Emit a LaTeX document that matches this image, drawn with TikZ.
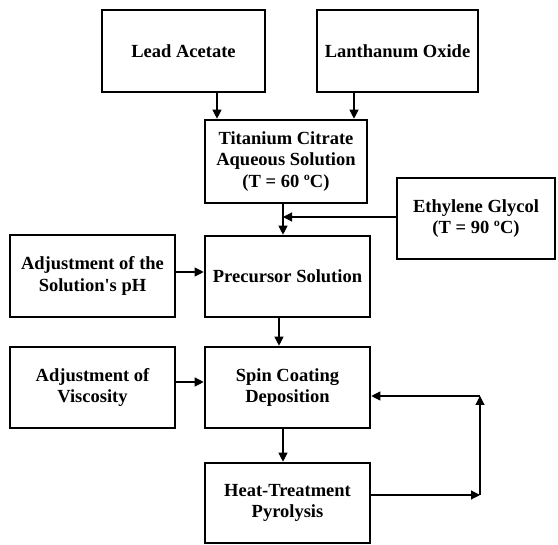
\documentclass[tikz,border=0pt]{standalone}
\usepackage{fontspec}
\setmainfont{Liberation Serif}
\usetikzlibrary{arrows.meta}
\tikzset{
  box/.style={draw=black, line width=2.6pt, fill=white, inner sep=0pt, align=center,
    font=\fontsize{18.5}{21.7}\selectfont\bfseries},
  arr/.style={draw=black, line width=1.1pt, -{Triangle[length=9pt,width=9pt]}}
}
\begin{document}
\begin{tikzpicture}[x=1pt,y=-1pt]
\useasboundingbox (0,0) rectangle (558,545);
\node[box, minimum width=163pt, minimum height=82pt] (lead) at (183.5,51) {Lead Acetate};
\node[box, minimum width=161pt, minimum height=82pt] (lan) at (397.5,51) {Lanthanum Oxide};
\node[box, minimum width=162pt, minimum height=83pt] (tit) at (286,161.5) {Titanium Citrate\\Aqueous Solution\\(T = 60 ºC)};
\node[box, minimum width=158pt, minimum height=81pt] (eth) at (476,218.5) {Ethylene Glycol\\(T = 90 ºC)};
\node[box, minimum width=165pt, minimum height=82pt] (ph) at (92.5,276) {Adjustment of the\\Solution\textquotesingle s pH};
\node[box, minimum width=165pt, minimum height=81pt] (pre) at (287.5,276.5) {Precursor Solution};
\node[box, minimum width=165pt, minimum height=81pt] (vis) at (92.5,387.5) {Adjustment of\\Viscosity};
\node[box, minimum width=165pt, minimum height=81pt] (spin) at (287.5,387.5) {Spin Coating\\Deposition};
\node[box, minimum width=165pt, minimum height=80pt] (heat) at (287.5,503) {Heat-Treatment\\Pyrolysis};
% connectors
\draw[arr] ([xshift=33.5pt]lead.south) -- ([xshift=33.5pt]lead.south |- tit.north);
\draw[arr] ([xshift=-43.5pt]lan.south) -- ([xshift=-43.5pt]lan.south |- tit.north);
\draw[arr] ([xshift=-3pt]tit.south) -- ([xshift=-3pt]tit.south |- pre.north);
\coordinate (j) at (283,217);
\draw[arr] (eth.west |- j) -- (j);
\draw[arr] ([yshift=4pt]ph.east) -- ([yshift=4pt]ph.east -| pre.west);
\draw[arr] ([xshift=-8.5pt]pre.south) -- ([xshift=-8.5pt]pre.south |- spin.north);
\draw[arr] ([yshift=5.5pt]vis.east) -- ([yshift=5.5pt]vis.east -| spin.west);
\draw[arr] ([xshift=-4.5pt]spin.south) -- ([xshift=-4.5pt]spin.south |- heat.north);
\coordinate (fb1) at (480,495);
\coordinate (fb2) at (480,396);
\draw[arr] (heat.east |- fb1) -- (fb1);
\draw[arr] (fb1) -- (fb2);
\draw[arr] (fb2) -- (fb2 -| spin.east);
\end{tikzpicture}
\end{document}
